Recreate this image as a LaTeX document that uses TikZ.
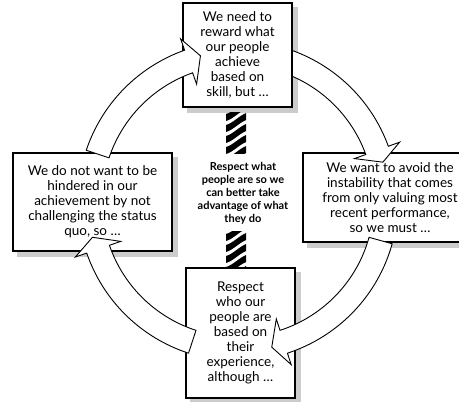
\documentclass[tikz,border=0pt]{standalone}
\usepackage{fontspec}
\setmainfont{Lato}
\usetikzlibrary{calc}
\pgfdeclarelayer{bg}
\pgfsetlayers{bg,main}
\newcommand{\bigarrow}[4]{%
  \draw[arrowshape] ($(C)+(#1:160)$) arc[start angle=#1, end angle=#3, radius=160]
    -- ($(C)+(#3:172)$) -- ($(C)+(#4:150)$) -- ($(C)+(#3:124)$)
    -- ($(C)+(#3:136)$) arc[start angle=#3, end angle=#2, radius=136] -- cycle;}
\newcommand{\boxshadow}[1]{%
  \begin{pgfonlayer}{bg}
  \fill[shadowfill] ($(#1.north west)+(5,5)$) rectangle ($(#1.south east)+(5,5)$);
  \end{pgfonlayer}}
\newcommand{\stripeblock}[3]{% top y, bottom y, first band y
  \begin{scope}
  \clip (226,#1) rectangle (246,#2);
  \foreach \k in {0,...,4}{
    \pgfmathsetmacro{\yy}{#3+11*\k}
    \fill (226,{\yy+6}) .. controls (233,{\yy+4}) and (239,{\yy-3}) .. (246,{\yy-6})
      -- (246,{\yy+1}) .. controls (239,{\yy+4}) and (233,{\yy+11}) .. (226,{\yy+13}) -- cycle;
  }
  \end{scope}}
\begin{document}
\begin{tikzpicture}[x=1pt,y=-1pt,
  box/.style={draw, line width=1.1pt, fill=white, align=center, inner sep=0pt,
    font=\fontsize{13.5}{15}\selectfont},
  shadowfill/.style={fill=gray!40},
  arrowshape/.style={draw, line width=0.9pt, fill=white, line join=miter},
  midtext/.style={align=center, font=\bfseries\fontsize{11}{13}\selectfont}]
\useasboundingbox (0,0) rectangle (459,402);
\clip (0,0) rectangle (459,402);
\coordinate (C) at (238,201);
% boxes whose arrows overlay them
\node[box, minimum width=174pt, minimum height=89pt] (right) at (390,197.5)
  {We want to avoid the\\instability that comes\\from only valuing most\\recent performance,\\so we must \ldots};
\boxshadow{right}
\node[box, minimum width=159pt, minimum height=98pt] (left) at (92.5,202)
  {We do not want to be\\hindered in our\\achievement by not\\challenging the status\\quo, so \ldots};
\boxshadow{left}
\node[box, minimum width=109pt, minimum height=130pt] (bottom) at (240.5,333)
  {Respect\\who our\\people are\\based on\\their\\experience,\\although \ldots};
\boxshadow{bottom}
% arrow from top box to right box (tail hidden under top box)
\bigarrow{-76}{-76}{-20}{-15}
\node[box, minimum width=109pt, minimum height=104pt] (top) at (237.5,55)
  {We need to\\reward what\\our people\\achieve\\based on\\skill, but \ldots};
\boxshadow{top}
% remaining arrows
\bigarrow{198.5}{198.5}{250.5}{255.5}
\bigarrow{15.5}{15.5}{72}{77}
\bigarrow{108}{108}{161}{166}
% central text and striped links
\node[midtext] (mid) at (243,193) {Respect what\\people are so we\\can better take\\advantage of what\\they do};
\stripeblock{112}{153}{108}
\stripeblock{231}{266}{228}
\end{tikzpicture}
\end{document}
